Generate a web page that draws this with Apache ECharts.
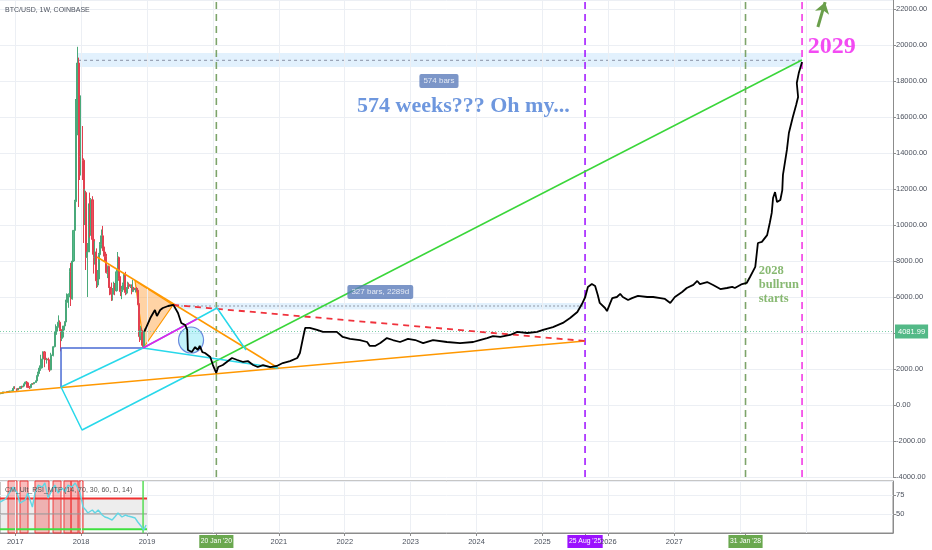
<!DOCTYPE html>
<html>
<head>
<meta charset="utf-8">
<script src="https://cdn.jsdelivr.net/npm/echarts@6.0.0/dist/echarts.min.js"></script>
<style>
html,body{margin:0;padding:0;background:#fff;}
#chart{width:932px;height:550px;}
</style>
</head>
<body>
<div id="chart"></div>
<script>
// ================= DATA =================
const symbolTitle = 'BTC/USD, 1W, COINBASE';
const rsiTitle = 'CM_Ult_RSI_MTF (14, 70, 30, 60, D, 14)';

// weekly candles, first week starting:
const firstWeek = '2016-10-10';
// [open, high, low, close]
const candles = [
[616,645,612,637],[637,657,630,650],[650,745,649,700],[700,742,680,705],[705,720,697,702],[702,755,700,740],
[740,750,725,730],[730,775,727,767],[767,780,755,773],[773,795,770,790],[790,935,789,920],[920,1020,890,1015],
[1015,1150,880,905],[905,910,750,828],[828,930,825,920],[920,925,880,918],[918,1040,915,1020],[1020,1070,940,1000],
[1000,1060,995,1050],[1050,1200,1045,1180],[1180,1290,1160,1275],[1275,1330,960,1230],[1230,1260,940,970],[970,1060,890,965],
[965,1150,925,1140],[1140,1210,1100,1180],[1180,1210,1160,1175],[1175,1260,1170,1250],[1250,1360,1240,1340],[1340,1650,1330,1600],
[1600,1850,1580,1750],[1750,2200,1740,2050],[2050,2790,1900,2060],[2060,2560,2040,2550],[2550,2980,2530,2950],[2950,3000,2100,2600],
[2600,2780,2500,2520],[2520,2600,2300,2550],[2550,2630,2450,2500],[2500,2520,1840,1950],[1950,2900,1930,2750],[2750,2800,2450,2760],
[2760,3280,2700,3240],[3240,4080,3200,4060],[4060,4480,3950,4100],[4100,4380,3900,4350],[4350,4980,4300,4600],[4600,4700,4100,4200],
[4200,4250,2980,3700],[3700,4100,3550,3780],[3780,4400,3760,4390],[4390,4650,4150,4610],[4610,5850,4600,5700],[5700,6200,5120,6000],
[6000,6200,5400,6150],[6150,7600,6130,7400],[7400,7900,5500,5900],[5900,8000,5850,8000],[8000,9700,7950,9700],[9700,11400,9000,11300],
[11300,17000,11200,15000],[15000,19900,15000,19000],[19000,19300,11000,14000],[14000,16500,12500,13800],
[13800,17200,12750,13900],[13900,15500,12500,13600],[13600,13700,9000,11500],[11500,12000,10000,11800],[11800,11900,7500,8200],
[8200,9000,6000,8500],[8500,11200,8500,11000],[11000,11800,9300,9600],[9600,11500,9400,11400],[11400,11600,8350,9200],
[9200,9900,7300,8200],[8200,9100,7800,8500],[8500,8700,6500,6900],[6900,7500,6550,7000],[7000,8450,6650,8350],
[8350,9050,7850,8900],[8900,9750,8700,9400],[9400,9950,8550,8600],[8600,9000,8250,8500],[8500,8800,7950,8250],
[8250,8400,7300,7350],[7350,7750,7050,7700],[7700,7750,6500,6550],[6550,6850,6100,6450],[6450,6800,5780,6150],
[6150,6500,5800,6400],[6400,6850,6300,6700],[6700,6780,6100,6350],[6350,7550,6300,7400],[7400,8500,7350,8200],
[8200,8250,6900,7050],[7050,7150,6050,6300],[6300,6620,5880,6400],[6400,6800,6300,6700],[6700,7300,6650,7260],
[7260,7400,6100,6250],[6250,6550,6150,6500],[6500,6850,6200,6700],[6700,6800,6450,6600],[6600,6700,6500,6600],
[6600,6700,6150,6300],[6300,6950,6300,6500],[6500,6560,6400,6410],[6410,6500,6250,6450],[6450,6550,6300,6380],
[6380,6500,5550,5600],[5600,5650,3500,3800],[3800,4400,3600,4150],[4150,4300,3300,3500],[3500,3600,3200,3250],
[3250,4250,3200,4081.99]
];
const lastPrice = 4081.99;

// axes
const xRange = [2016.769, 2030.32];
const yRange = [-4000, 22500];
const yStep = 2000;
const rsiRange = [25, 93];
const rsiStep = 25;
const gridYears = [2017,2018,2019,2020,2021,2022,2023,2024,2025,2026,2027,2028,2029];
const yearLabels = [2017,2018,2019,2021,2022,2023,2024,2025,2026,2027];
const eventDates = [2020.052, 2025.647, 2028.082, 2028.94];
const eventLabels = ["20 Jan '20", "25 Aug '25", "31 Jan '28", ""];

// drawings ([year, price])
const rangeBox574 = [[2017.953, 18780], [2028.939, 19560]];
const rangeLine574 = [[2017.953, 19150], [2028.939, 19150]];
const rangeBox327 = [[2019.395, 5300], [2025.646, 5670]];
const rangeLine327 = [[2019.395, 5500], [2025.646, 5500]];
const orangeRising = [[2016.769, 667], [2025.646, 3556]];
const orangeFalling = [[2018.241, 8222], [2020.99, 2056]];
const triangle = [[2018.818, 6900], [2018.954, 3222], [2019.395, 5556]];
const redDashed = [[2019.395, 5556], [2025.646, 3556]];
const greenRise = [[2019.546, 1500], [2028.939, 19167]];
const blueCorner = [[2017.695, 1000], [2017.695, 3167], [2018.94, 3167]];
const cyanA = [[2017.695, 1000], [2018.94, 3167]];
const cyanB = [[2017.695, 1000], [2018.014, -1389], [2019.546, 1500]];
const cyanC = [[2018.94, 3167], [2020.99, 2056]];
const cyanD = [[2018.94, 3167], [2020.062, 5389], [2020.502, 3056]];
const magentaSeg = [[2018.94, 3167], [2019.759, 4778]];
const circleAt = [2019.668, 3611];
const arrowUp = [[2029.18, 21000], [2029.29, 22380]];
const projection = [
[2018.96,4082],[2019.05,4830],[2019.12,5280],[2019.15,4940],[2019.20,5280],[2019.24,5390],[2019.32,5500],[2019.40,5560],
[2019.47,5110],[2019.52,4560],[2019.58,4440],[2019.61,4170],[2019.62,3060],[2019.65,3170],[2019.68,2940],[2019.73,3220],
[2019.77,3060],[2019.80,3280],[2019.84,2940],[2019.88,2890],[2019.96,2670],[2020.00,2220],[2020.05,1780],[2020.08,2110],
[2020.15,2220],[2020.21,2390],[2020.29,2610],[2020.37,2500],[2020.46,2390],[2020.53,2440],[2020.61,2220],[2020.68,2110],
[2020.76,2220],[2020.87,2110],[2020.97,2170],[2021.06,2330],[2021.17,2440],[2021.28,2610],[2021.32,2890],[2021.37,3780],
[2021.40,4280],[2021.47,4280],[2021.58,4170],[2021.67,4060],[2021.78,4060],[2021.88,4060],[2021.97,3780],[2022.08,3670],
[2022.23,3610],[2022.34,3500],[2022.38,3280],[2022.46,3280],[2022.54,3440],[2022.64,3720],[2022.73,3610],[2022.84,3500],
[2022.96,3670],[2023.07,3610],[2023.19,3440],[2023.34,3610],[2023.55,3500],[2023.75,3440],[2023.95,3500],[2024.05,3610],
[2024.16,3720],[2024.25,3830],[2024.36,3780],[2024.51,3890],[2024.62,4060],[2024.77,4000],[2024.92,4060],[2025.01,4170],
[2025.16,4330],[2025.31,4560],[2025.42,4830],[2025.53,5170],[2025.60,5610],[2025.65,6000],[2025.69,6560],[2025.75,6720],
[2025.80,6610],[2025.84,6110],[2025.87,5670],[2025.95,5390],[2025.98,5220],[2026.03,5670],[2026.06,5940],[2026.13,6000],
[2026.18,6170],[2026.22,6000],[2026.30,5830],[2026.36,5940],[2026.45,6060],[2026.59,6000],[2026.68,6000],[2026.79,5940],
[2026.86,5890],[2026.89,5940],[2026.94,5670],[2027.01,6000],[2027.12,6280],[2027.19,6500],[2027.29,6670],[2027.35,6890],
[2027.39,6720],[2027.50,6830],[2027.59,6670],[2027.70,6440],[2027.80,6500],[2027.88,6560],[2027.92,6500],[2028.03,6720],
[2028.10,6780],[2028.15,7110],[2028.23,7670],[2028.27,9000],[2028.33,9060],[2028.41,9440],[2028.45,10110],[2028.48,10670],
[2028.50,11500],[2028.53,11830],[2028.56,11280],[2028.61,11390],[2028.64,11940],[2028.65,12780],[2028.71,14170],[2028.74,15110],
[2028.80,16000],[2028.85,16670],[2028.88,17110],[2028.86,17890],[2028.89,18440],[2028.94,19060]
];

// notes
const noteTexts = ['574 bars', '327 bars, 2289d', '574 weeks??? Oh my...', '2029', '2028\nbullrun\nstarts'];
const noteAt = [[2023.43, 18000], [2022.54, 6280], [2023.80, 16610], [2029.39, 19890], [2028.29, 7830]];

// RSI pane
const rsiPoints = [
[2016.77,65.5],[2016.85,69.4],[2016.92,78.6],[2016.97,85.1],[2017.03,77.3],[2017.07,64.2],[2017.15,68.1],[2017.19,77.3],
[2017.26,59],[2017.30,77.3],[2017.35,87.7],[2017.41,85.1],[2017.45,90.4],[2017.50,70.8],[2017.56,81.2],[2017.60,87.7],
[2017.65,77.3],[2017.71,83.8],[2017.76,78.6],[2017.80,87.7],[2017.86,85.1],[2017.91,90.4],[2017.94,91.7],[2017.98,78.6],
[2018.03,59],[2018.07,55.1],[2018.10,51.2],[2018.17,55.1],[2018.21,51.2],[2018.26,55.1],[2018.32,48.5],[2018.36,45.9],
[2018.41,44.6],[2018.47,42],[2018.51,45.9],[2018.56,51.2],[2018.62,45.9],[2018.67,48.5],[2018.71,47.2],[2018.77,45.9],
[2018.82,44.6],[2018.86,39.4],[2018.92,32.8],[2018.95,28.9],[2018.985,35.5]
];
const rsiSpan = [2016.769, 2019.0];
const rsiUpper = 70, rsiMid = 50, rsiLower = 30;
const overboughtBands = [[2016.891,2017.027],[2017.073,2017.194],[2017.300,2017.513],[2017.574,2017.695],[2017.740,2017.847],[2017.847,2017.953],[2017.968,2018.029]];
const oversoldMark = 2018.94;

// ================= CHART =================
const FONT = 'Liberation Sans';
function decYear(ms){const d=new Date(ms);const y=d.getUTCFullYear();const s=Date.UTC(y,0,1),e=Date.UTC(y+1,0,1);return y+(ms-s)/(e-s);}
const t0 = Date.parse(firstWeek + 'T00:00:00Z');
const candleData = candles.map((c,i)=>[decYear(t0+i*7*864e5), c[0], c[3], c[2], c[1]]);

function seg(pts, color, width, type, z, axis){
  return {type:'line', xAxisIndex:axis||0, yAxisIndex:axis||0, data:pts, symbol:'none', showSymbol:false,
    silent:true, z:z||5, lineStyle:{color:color, width:width, type:type||'solid'}};
}
const series = [];
// vertical grid lines
series.push({type:'line', xAxisIndex:0, yAxisIndex:0, data:[], silent:true, z:0,
  markLine:{silent:true, symbol:'none', label:{show:false}, lineStyle:{color:'#eceff4', width:1, type:'solid'},
    data: gridYears.map(v=>({xAxis:v}))}});
series.push({type:'line', xAxisIndex:1, yAxisIndex:1, data:[], silent:true, z:0,
  markLine:{silent:true, symbol:'none', label:{show:false}, lineStyle:{color:'#eceff4', width:1, type:'solid'},
    data: gridYears.map(v=>({xAxis:v}))}});
// range boxes
series.push({type:'line', xAxisIndex:0, yAxisIndex:0, data:[], silent:true, z:1,
  markArea:{silent:true, itemStyle:{color:'rgba(33,150,243,0.13)'},
    data:[[{coord:rangeBox574[0]},{coord:rangeBox574[1]}],[{coord:rangeBox327[0]},{coord:rangeBox327[1]}]]}});
series.push(seg(rangeLine574, '#8a93a6', 1, [3,3], 2));
series.push(seg(rangeLine327, '#8f95a3', 1, [2,2], 2));
// event vertical dashed lines
const evColors = ['#7da46a', '#a31cff', '#7da46a', '#f23be6'];
eventDates.forEach((d,i)=>series.push(seg([[d, yRange[0]],[d, yRange[1]]], evColors[i], 1.6, [7,5], 3)));
// triangle fill
series.push({type:'custom', xAxisIndex:0, yAxisIndex:0, z:3, silent:true, data:[triangle[0]],
  renderItem:(p,api)=>({type:'polygon', shape:{points: triangle.map(q=>api.coord(q))},
    style:{fill:'rgba(255,150,40,0.42)', stroke:'#ff9800', lineWidth:1.2}})});
// candles
series.push({type:'candlestick', xAxisIndex:0, yAxisIndex:0, data:candleData, barWidth:1.6, z:4,
  itemStyle:{color:'#53b987', color0:'#eb4d5c', borderColor:'#4aa97a', borderColor0:'#e2404f', borderWidth:1},
  markLine:{silent:true, symbol:'none', data:[{yAxis:lastPrice}],
    lineStyle:{color:'#7fcfaa', type:[1,2], width:1},
    label:{position:'end', formatter:lastPrice.toFixed(2), backgroundColor:'#53b987', color:'#fff',
      fontSize:7.5, fontFamily:FONT, padding:[3,3], distance:2}}});
// drawings
series.push(seg(orangeRising, '#ff9800', 1.5, 'solid', 6));
series.push(seg(orangeFalling, '#ff9800', 1.5, 'solid', 6));
series.push(seg(redDashed, '#f0323c', 1.8, [6,5], 6));
series.push(seg(greenRise, '#3ad63a', 1.5, 'solid', 6));
series.push(seg(blueCorner, '#4a6bd4', 1.5, 'solid', 6));
series.push(seg(cyanA, '#28d8ea', 1.5, 'solid', 6));
series.push(seg(cyanB, '#28d8ea', 1.5, 'solid', 6));
series.push(seg(cyanC, '#28d8ea', 1.5, 'solid', 6));
series.push(seg(cyanD, '#28d8ea', 1.5, 'solid', 6));
series.push(seg(magentaSeg, '#e81ee8', 1.5, 'solid', 7));
series.push({type:'scatter', xAxisIndex:0, yAxisIndex:0, data:[circleAt], symbolSize:[25,26], silent:true, z:7,
  itemStyle:{color:'rgba(60,215,240,0.38)', borderColor:'#4a6bd4', borderWidth:1.2}});
series.push(seg(projection, '#000000', 1.8, 'solid', 10));
// arrow
series.push({type:'line', xAxisIndex:0, yAxisIndex:0, data:[], silent:true, z:10,
  markLine:{silent:true, symbol:['none','arrow'], symbolSize:11, label:{show:false},
    lineStyle:{color:'#6a9f4b', width:3, type:'solid'},
    data:[[{coord:arrowUp[0]},{coord:arrowUp[1]}]]}});
// notes
const boxLabel = {backgroundColor:'#5b7cba', color:'#fff', fontSize:8, fontFamily:FONT, padding:[3,4], borderRadius:2, position:'inside'};
const noteStyles = [
  boxLabel, boxLabel,
  {color:'#4a7dd6', fontSize:22, fontWeight:'bold', fontFamily:'Liberation Serif', position:'inside'},
  {color:'#f01ef0', fontSize:24, fontWeight:'bold', fontFamily:'Liberation Serif', position:'inside'},
  {color:'#6aa84f', fontSize:12.5, fontWeight:'bold', fontFamily:'Liberation Serif', lineHeight:14,
   position:[0,0], align:'left', verticalAlign:'top'}
];
series.push({type:'scatter', xAxisIndex:0, yAxisIndex:0, silent:true, z:20, symbolSize:1,
  itemStyle:{color:'rgba(0,0,0,0)'},
  data: noteAt.map((a,i)=>({value:a, label:Object.assign({show:true, formatter:noteTexts[i]}, noteStyles[i])}))});

// RSI
series.push({type:'line', xAxisIndex:1, yAxisIndex:1, data:[], silent:true, z:1,
  markArea:{silent:true, itemStyle:{color:'rgba(140,140,140,0.16)'},
    data:[[{coord:[rsiSpan[0], rsiLower]},{coord:[rsiSpan[1], rsiUpper]}]]}});
series.push({type:'line', xAxisIndex:1, yAxisIndex:1, data:[], silent:true, z:2,
  markArea:{silent:true, itemStyle:{color:'rgba(240,80,80,0.38)', borderColor:'#f03c3c', borderWidth:1},
    data: overboughtBands.map(b=>[{xAxis:b[0]},{xAxis:b[1]}])}});
series.push(seg([[rsiSpan[0], rsiMid],[rsiSpan[1], rsiMid]], '#9a9a9a', 1, 'solid', 3, 1));
series.push(seg([[rsiSpan[0], rsiUpper],[rsiSpan[1], rsiUpper]], '#f03030', 2, 'solid', 4, 1));
series.push(seg([[rsiSpan[0], rsiLower],[rsiSpan[1], rsiLower]], '#40e040', 2, 'solid', 4, 1));
series.push(seg([[oversoldMark, rsiRange[0]],[oversoldMark, rsiRange[1]]], '#55dd55', 1.5, 'solid', 4, 1));
series.push(seg(rsiPoints, '#62d6e4', 1.4, 'solid', 5, 1));

const evRich = {};
const evBg = ['#6aa84f', '#9b12ff', '#6aa84f'];
evBg.forEach((c,i)=>{evRich['e'+i] = {backgroundColor:c, color:'#fff', fontSize:6.8, fontFamily:FONT, padding:[3,1.5]};});
evRich.y = {color:'#4c525e', fontSize:7.5, fontFamily:FONT, padding:[3,0]};
const xLabelValues = eventDates.filter((d,i)=>eventLabels[i]).concat(yearLabels);

const option = {
  animation:false,
  backgroundColor:'#ffffff',
  textStyle:{fontFamily:FONT},
  title:[
    {text:symbolTitle, left:5, top:7, padding:0, textStyle:{fontSize:7, fontWeight:'normal', color:'#4c525e', fontFamily:FONT}},
    {text:rsiTitle, left:5, top:487, padding:0, textStyle:{fontSize:7, fontWeight:'normal', color:'#555', fontFamily:FONT}}
  ],
  grid:[
    {left:0, right:39, top:0, height:477, outerBoundsMode:'none'},
    {left:0, right:39, top:481, height:52, show:true, borderColor:'#8c8c8c', borderWidth:1, outerBoundsMode:'none'}
  ],
  xAxis:[
    {type:'value', gridIndex:0, min:xRange[0], max:xRange[1], axisLine:{show:false}, axisTick:{show:false},
     axisLabel:{show:false}, splitLine:{show:false}},
    {type:'value', gridIndex:1, min:xRange[0], max:xRange[1], axisLine:{show:true, lineStyle:{color:'#8c8c8c'}},
     axisTick:{show:true, customValues:xLabelValues, length:3, lineStyle:{color:'#8c8c8c'}},
     splitLine:{show:false},
     axisLabel:{show:true, customValues:xLabelValues, margin:2, rich:evRich,
       formatter:(v)=>{const k=eventDates.findIndex(e=>Math.abs(e-v)<1e-6);
         if(k>=0 && eventLabels[k]) return '{e'+k+'|'+eventLabels[k]+'}';
         return '{y|'+Math.round(v)+'}';}}}
  ],
  yAxis:[
    {type:'value', gridIndex:0, position:'right', min:yRange[0], max:yRange[1], interval:yStep,
     axisLine:{show:true, lineStyle:{color:'#8c8c8c'}}, axisTick:{show:true, length:3, lineStyle:{color:'#8c8c8c'}},
     splitLine:{show:true, lineStyle:{color:'#eceff4'}},
     axisLabel:{fontSize:7.5, color:'#4c525e', margin:3, showMaxLabel:false, formatter:v=>v.toFixed(2)}},
    {type:'value', gridIndex:1, position:'right', min:rsiRange[0], max:rsiRange[1], interval:rsiStep,
     axisLine:{show:true, lineStyle:{color:'#8c8c8c'}}, axisTick:{show:true, length:3, lineStyle:{color:'#8c8c8c'}},
     splitLine:{show:true, lineStyle:{color:'#eceff4'}},
     axisLabel:{fontSize:7.5, color:'#4c525e', margin:3, showMaxLabel:false, showMinLabel:false}}
  ],
  series:series
};
const chart = echarts.init(document.getElementById('chart'), null, {renderer:'canvas'});
chart.setOption(option);
</script>
</body>
</html>
